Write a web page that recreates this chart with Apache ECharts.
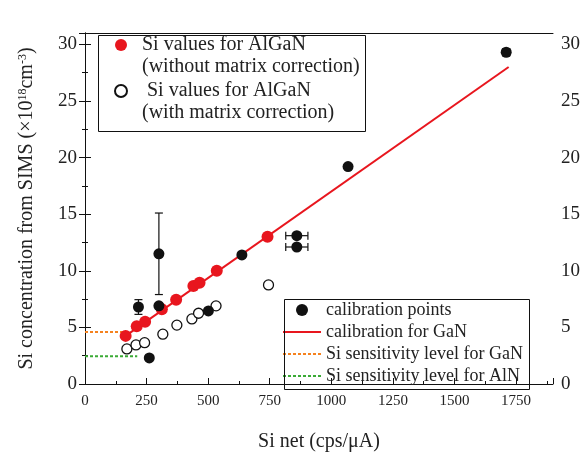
<!DOCTYPE html>
<html>
<head>
<meta charset="utf-8">
<script src="https://cdn.jsdelivr.net/npm/echarts@6/dist/echarts.min.js"></script>
<style>
  html, body { margin: 0; padding: 0; background: #fff; }
  #chart { width: 584px; height: 457px; }
</style>
</head>
<body>
<div id="chart"></div>
<script>
// calibration points (black), with error bars
const calX = [217, 300, 300, 261, 501, 637, 860, 860, 1068, 1710]
const calY = [6.8, 6.9, 11.5, 2.3, 6.45, 11.4, 13.1, 12.1, 19.2, 29.3]
const calXErr = [0, 0, 0, 0, 0, 0, 45, 45, 0, 15]
const calYErr = [0.65, 0, 3.6, 0, 0, 0, 0, 0, 0, 0]

// AlGaN without matrix correction (red)
const redX = [165, 210, 244, 312, 370, 440, 465, 535, 741]
const redY = [4.25, 5.1, 5.5, 6.6, 7.45, 8.65, 8.95, 10.0, 13.0]

// AlGaN with matrix correction (hollow)
const hollowX = [170, 207, 242, 316, 373, 434, 461, 532, 745]
const hollowY = [3.1, 3.45, 3.65, 4.4, 5.2, 5.75, 6.25, 6.9, 8.75]

// calibration line for GaN
const fitX = [165, 1720]
const fitY = [4.25, 28.0]

// sensitivity levels
const gaNLevelX = [0, 160]
const gaNLevelY = [4.6, 4.6]
const alNLevelX = [0, 212]
const alNLevelY = [2.45, 2.45]

const xTicks = { min: 0, max: 1900, interval: 250 }
const yTicks = { min: 0, max: 31, interval: 5 }

const font = "'Liberation Serif', 'Times New Roman', serif"
const txt = '#222'

const redName = '  Si values for AlGaN'
const hollowName = '   Si values for AlGaN'

const zip = (xs, ys) => xs.map((x, i) => [x, ys[i]])

const chart = echarts.init(document.getElementById('chart'))

const yAxisCommon = {
  type: 'value',
  min: yTicks.min,
  max: yTicks.max,
  interval: yTicks.interval,
  axisLine: { show: true, lineStyle: { color: '#111', width: 1 } },
  axisTick: { show: true, inside: true, length: 6, lineStyle: { color: '#111' } },
  minorTick: { show: true, splitNumber: 2, length: 3, lineStyle: { color: '#111' } },
  splitLine: { show: false },
  axisLabel: { fontFamily: font, fontSize: 19, color: txt, margin: 8, showMaxLabel: false }
}

const hideSym = { opacity: 0 }

chart.setOption({
  animation: false,
  backgroundColor: '#fff',
  grid: { left: 85, right: 31, top: 33, bottom: 63 },
  xAxis: [{
    type: 'value',
    min: xTicks.min,
    max: xTicks.max,
    interval: xTicks.interval,
    name: 'Si net (cps/\u03bcA)',
    nameLocation: 'middle',
    nameGap: 48,
    nameTextStyle: { fontFamily: font, fontSize: 20, color: txt },
    axisLine: { show: true, lineStyle: { color: '#111', width: 1 } },
    axisTick: { show: true, inside: true, length: 6, lineStyle: { color: '#111' } },
    minorTick: { show: true, splitNumber: 2, length: 3, lineStyle: { color: '#111' } },
    splitLine: { show: false },
    axisLabel: { fontFamily: font, fontSize: 15, color: txt, margin: 10, showMaxLabel: false, formatter: v => String(v) }
  }, {
    type: 'value',
    position: 'top',
    min: xTicks.min,
    max: xTicks.max,
    axisLine: { show: true, onZero: false, lineStyle: { color: '#111', width: 1 } },
    axisTick: { show: false },
    axisLabel: { show: false },
    splitLine: { show: false }
  }],
  yAxis: [Object.assign({}, yAxisCommon, {
    name: 'Si concentration from SIMS (\u00d710{s|18}cm{s|-3})',
    nameLocation: 'middle',
    nameGap: 48,
    nameTextStyle: {
      fontFamily: font, fontSize: 20, color: txt,
      rich: { s: { fontFamily: font, fontSize: 12, color: txt, verticalAlign: 'top', padding: [0, 0, 8, 0] } }
    }
  }), Object.assign({}, yAxisCommon, { position: 'right' })],
  legend: [{
    data: [{ name: redName, icon: 'circle' }, { name: hollowName, icon: 'circle' }],
    orient: 'vertical',
    left: 114,
    top: 34,
    padding: 0,
    itemWidth: 12,
    itemHeight: 12,
    itemGap: 24,
    selectedMode: false,
    textStyle: { fontFamily: font, fontSize: 20, lineHeight: 22, color: txt }
  }, {
    data: [
      { name: 'calibration points' },
      { name: 'calibration for GaN', itemStyle: hideSym },
      { name: 'Si sensitivity level for GaN', itemStyle: hideSym },
      { name: 'Si sensitivity level for AlN', itemStyle: hideSym }
    ],
    orient: 'vertical',
    left: 282,
    top: 299,
    padding: 0,
    itemWidth: 38,
    itemHeight: 12,
    itemGap: 0,
    selectedMode: false,
    textStyle: { fontFamily: font, fontSize: 18, lineHeight: 22, color: txt }
  }],
  graphic: [
    { type: 'rect', left: 96, top: 33, shape: { width: 267, height: 96 }, style: { fill: 'none', stroke: '#111', lineWidth: 1 }, z: 10 },
    { type: 'text', left: 142, top: 57, style: { text: '(without matrix correction)', font: '20px ' + font, fill: txt }, z: 10 },
    { type: 'text', left: 142, top: 103, style: { text: '(with matrix correction)', font: '20px ' + font, fill: txt }, z: 10 },
    { type: 'rect', left: 282, top: 297, shape: { width: 245, height: 90 }, style: { fill: 'none', stroke: '#111', lineWidth: 1 }, z: 10 }
  ],
  series: [{
    name: 'Si sensitivity level for GaN',
    type: 'line',
    data: zip(gaNLevelX, gaNLevelY),
    symbol: 'none',
    lineStyle: { color: '#f5821f', width: 2, type: [3, 2] },
    itemStyle: { color: '#f5821f' },
    z: 2
  }, {
    name: 'Si sensitivity level for AlN',
    type: 'line',
    data: zip(alNLevelX, alNLevelY),
    symbol: 'none',
    lineStyle: { color: '#3aaa35', width: 2, type: [3, 2] },
    itemStyle: { color: '#3aaa35' },
    z: 2
  }, {
    name: 'calibration for GaN',
    type: 'line',
    data: zip(fitX, fitY),
    symbol: 'none',
    lineStyle: { color: '#e8161e', width: 2 },
    itemStyle: { color: '#e8161e' },
    z: 2
  }, {
    name: hollowName,
    type: 'scatter',
    data: zip(hollowX, hollowY),
    symbol: 'circle',
    symbolSize: 10,
    symbolKeepAspect: true,
    itemStyle: { color: '#fff', borderColor: '#111', borderWidth: 1.3, opacity: 1 },
    z: 3
  }, {
    name: redName,
    type: 'scatter',
    data: zip(redX, redY),
    symbol: 'circle',
    symbolSize: 12,
    symbolKeepAspect: true,
    itemStyle: { color: '#e8161e', opacity: 1 },
    z: 4
  }, {
    name: 'error bars',
    type: 'custom',
    data: calX.map((x, i) => [x, calY[i], calXErr[i], calYErr[i]]),
    renderItem: function (params, api) {
      const x = api.value(0), y = api.value(1), xe = api.value(2), ye = api.value(3)
      const children = []
      const st = { stroke: '#111', lineWidth: 1.2 }
      if (ye > 0) {
        const top = api.coord([x, y + ye]), bot = api.coord([x, y - ye])
        children.push({ type: 'line', shape: { x1: top[0], y1: top[1], x2: bot[0], y2: bot[1] }, style: st })
        children.push({ type: 'line', shape: { x1: top[0] - 4, y1: top[1], x2: top[0] + 4, y2: top[1] }, style: st })
        children.push({ type: 'line', shape: { x1: bot[0] - 4, y1: bot[1], x2: bot[0] + 4, y2: bot[1] }, style: st })
      }
      if (xe > 0) {
        const l = api.coord([x - xe, y]), r = api.coord([x + xe, y])
        children.push({ type: 'line', shape: { x1: l[0], y1: l[1], x2: r[0], y2: r[1] }, style: st })
        children.push({ type: 'line', shape: { x1: l[0], y1: l[1] - 4, x2: l[0], y2: l[1] + 4 }, style: st })
        children.push({ type: 'line', shape: { x1: r[0], y1: r[1] - 4, x2: r[0], y2: r[1] + 4 }, style: st })
      }
      return { type: 'group', children: children }
    },
    z: 5
  }, {
    name: 'calibration points',
    type: 'scatter',
    data: zip(calX, calY),
    symbol: 'circle',
    symbolSize: 11,
    symbolKeepAspect: true,
    itemStyle: { color: '#111', opacity: 1 },
    z: 6
  }]
})
</script>
</body>
</html>
